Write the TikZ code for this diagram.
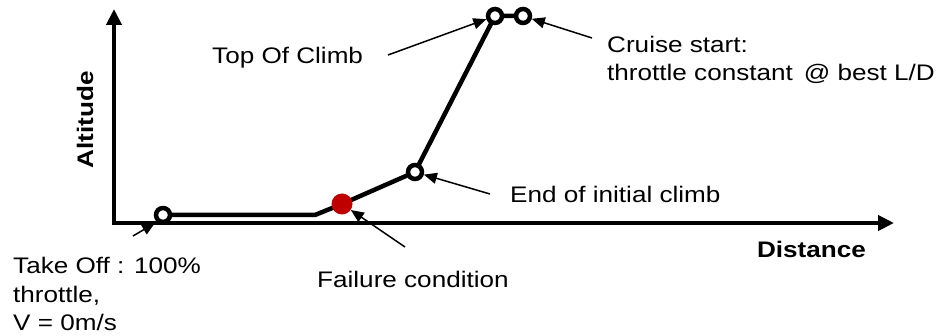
\documentclass[tikz,border=0pt]{standalone}
\usepackage{fontspec}
\setmainfont{Liberation Sans}[FakeStretch=1.16]
\usetikzlibrary{arrows.meta}
\begin{document}
\begin{tikzpicture}[x=1pt,y=-1pt,
  axis/.style={line width=4.5pt,-{Triangle[length=16pt,width=15pt]}},
  fpath/.style={line width=4.5pt,line join=round},
  pt/.style={circle,draw,line width=4.5pt,fill=white,minimum size=14pt,inner sep=0pt},
  fail/.style={circle,fill=failred,minimum size=21pt,inner sep=0pt},
  ann/.style={line width=1.5pt,-{Triangle[length=13pt,width=11pt]}},
  lbl/.style={font=\fontsize{22.5}{28.5}\selectfont,inner sep=0pt},
  blbl/.style={font=\fontsize{22.5}{28.5}\selectfont\bfseries,inner sep=0pt}]
\definecolor{failred}{RGB}{192,0,0}
\useasboundingbox (0,0) rectangle (938,336);
% axes
\coordinate (O) at (114,223);
\coordinate (ytip) at (114,9);
\coordinate (xtip) at (894,223);
\draw[axis] ([yshift=-2.25pt]O) -- (ytip);
\draw[axis] ([xshift=-2.25pt]O) -- (xtip);
% flight path
\coordinate (pto) at (163,215);
\coordinate (lvl) at (315,215);
\coordinate (pfc) at (342,204);
\coordinate (peic) at (415,172);
\coordinate (ptoc) at (495,16);
\coordinate (pcs) at (523,16);
\draw[fpath] (pto) -- (lvl) -- (pfc) -- (peic) -- (ptoc) -- (pcs);
\node[fail] (fc) at (pfc) {};
\node[pt] (to) at (pto) {};
\node[pt] (eic) at (peic) {};
\node[pt] (toc) at (ptoc) {};
\node[pt] (cs) at (pcs) {};
% labels
\node[lbl,anchor=base west] (ltoc) at (212,64) {Top Of Climb};
\node[lbl,anchor=base west,align=left] (lcs) at (607,81) {Cruise start:\\throttle constant\,\ @ best L/D};
\node[lbl,anchor=base west] (leic) at (510,203) {End of initial climb};
\node[lbl,anchor=base west] (lfc) at (317,288) {Failure condition};
\node[blbl,anchor=base east] (ldist) at (866,258) {Distance};
\node[blbl,rotate=90,anchor=base] (lalt) at (93,120) {Altitude};
\node[lbl,anchor=base west,align=left] (lto) at (13,331) {Take Off : 100\%\\throttle,\\V = 0m/s};
% annotation arrows
\coordinate (atoc) at (388,55);
\coordinate (acs) at (592,38);
\coordinate (aeic) at (490,194);
\coordinate (afc) at (405,247);
\coordinate (ato) at (133,236);
\coordinate (toend) at (155,223);
\draw[ann] (atoc) -- (toc);
\draw[ann] (acs) -- (cs);
\draw[ann] (aeic) -- (eic);
\draw[ann] (afc) -- (fc);
\draw[ann] (ato) -- (toend);
\end{tikzpicture}
\end{document}
